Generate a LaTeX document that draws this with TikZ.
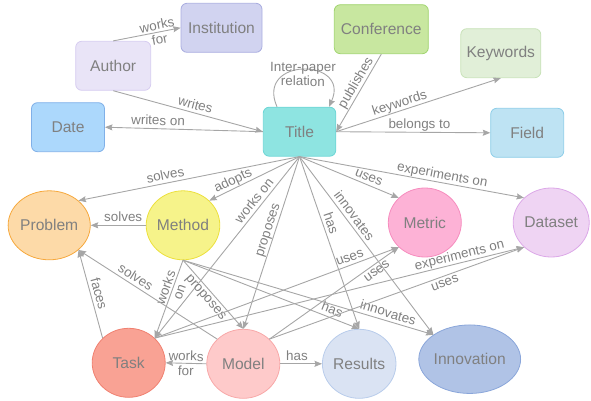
\documentclass[tikz,border=0pt]{standalone}
\usepackage{fontspec}
\setmainfont{Liberation Sans}
\usetikzlibrary{shapes.geometric,arrows.meta}

\definecolor{txt}{RGB}{128,128,128}
\definecolor{edgec}{RGB}{166,166,166}
\definecolor{instf}{RGB}{209,211,240}\definecolor{instd}{RGB}{170,174,224}
\definecolor{authf}{RGB}{233,228,247}\definecolor{authd}{RGB}{214,204,240}
\definecolor{datef}{RGB}{172,216,252}\definecolor{dated}{RGB}{128,176,232}
\definecolor{titlef}{RGB}{142,228,225}\definecolor{titled}{RGB}{110,214,214}
\definecolor{conff}{RGB}{200,231,160}\definecolor{confd}{RGB}{160,212,110}
\definecolor{kwf}{RGB}{225,239,216}\definecolor{kwd}{RGB}{200,226,184}
\definecolor{fieldf}{RGB}{190,227,243}\definecolor{fieldd}{RGB}{140,205,232}
\definecolor{probf}{RGB}{253,218,168}\definecolor{probd}{RGB}{246,168,60}
\definecolor{methf}{RGB}{246,243,138}\definecolor{methd}{RGB}{236,224,60}
\definecolor{metricf}{RGB}{253,178,214}\definecolor{metricd}{RGB}{246,140,190}
\definecolor{dataf}{RGB}{239,212,243}\definecolor{datad}{RGB}{220,168,232}
\definecolor{taskf}{RGB}{249,162,148}\definecolor{taskd}{RGB}{240,128,112}
\definecolor{modelf}{RGB}{254,202,202}\definecolor{modeld}{RGB}{248,168,168}
\definecolor{resf}{RGB}{218,227,243}\definecolor{resd}{RGB}{184,204,235}
\definecolor{innovf}{RGB}{176,195,230}\definecolor{innovd}{RGB}{138,166,218}

\begin{document}
\begin{tikzpicture}[x=1pt,y=-1pt,
  box/.style={draw, rounded corners=6pt, minimum height=49pt, inner sep=0pt,
    font=\fontsize{15.6}{18}\selectfont, text=txt, line width=0.8pt},
  ell/.style={draw, ellipse, minimum width=73pt, minimum height=69pt, inner sep=0pt,
    font=\fontsize{15.6}{18}\selectfont, text=txt, line width=0.8pt},
  rel/.style={draw=edgec, line width=0.9pt, -{Stealth[length=7.5pt,width=6pt,inset=1pt]}},
  lbl/.style={font=\fontsize{13.4}{14.5}\selectfont, text=txt, sloped, inner sep=0.5pt,
    text height=9.5pt, text depth=2.7pt},
  lbltwo/.style={font=\fontsize{13.4}{14.5}\selectfont, text=txt, sloped, inner sep=0pt,
    align=center}
]
\useasboundingbox (0,0) rectangle (591,401);

% rounded boxes
\node[box, fill=instf, draw=instd, minimum width=81pt] (inst) at (221.5,27.8) {Institution};
\node[box, fill=authf, draw=authd, minimum width=75pt] (auth) at (113.2,65.8) {Author};
\node[box, fill=datef, draw=dated, minimum width=73pt] (date) at (68,127.2) {Date};
\node[box, fill=titlef, draw=titled, minimum width=72.5pt] (title) at (299.5,131.7) {Title};
\node[box, fill=conff, draw=confd, minimum width=94pt] (conf) at (381.3,29.2) {Conference};
\node[box, fill=kwf, draw=kwd, minimum width=80pt] (kw) at (500.8,53.2) {Keywords};
\node[box, fill=fieldf, draw=fieldd, minimum width=73pt] (field) at (527.2,132.8) {Field};

% ellipses
\node[ell, fill=probf, draw=probd] (prob) at (49.2,225.3) {Problem};
\node[ell, fill=methf, draw=methd] (meth) at (183,225.3) {Method};
\node[ell, fill=metricf, draw=metricd] (metric) at (424.8,222.5) {Metric};
\node[ell, fill=dataf, draw=datad] (data) at (551.2,222.5) {Dataset};
\node[ell, fill=taskf, draw=taskd] (task) at (128.7,362.8) {Task};
\node[ell, fill=modelf, draw=modeld] (model) at (243.3,363.8) {Model};
\node[ell, fill=resf, draw=resd] (res) at (359.2,363.8) {Results};
\node[ell, fill=innovf, draw=innovd, minimum width=74pt, minimum height=68.5pt] (innov) at (469.7,359.2) {Innovation};

% edges
\draw[rel] (auth.north) -- node[lbltwo, pos=0.67]{works\\for} (inst.west);
\draw[rel] (auth.south) -- node[lbl, above, pos=0.535]{writes} (title.west);
\draw[rel] (title.west) -- node[lbl, above, pos=0.665]{writes on} (date.east);
\draw[rel] ([xshift=-22.5pt]title.north) .. controls +(-22,-50) and +(22,-49) ..
  node[lbltwo, pos=0.5, yshift=-4.5pt]{Inter-paper\\relation} ([xshift=29.5pt]title.north);
\draw[rel] (conf.south) -- node[lbl, above, pos=0.42]{publishes} (title.east);
\draw[rel] (title.east) -- node[lbl, above, pos=0.4]{keywords} (kw.south);
\draw[rel] (title.east) -- node[lbl, above, pos=0.54]{belongs to} (field.west);
\draw[rel] (title.south) -- node[lbl, above, pos=0.6]{solves} (prob.north east);
\draw[rel] (title.south) -- node[lbl, above, pos=0.7]{adopts} (meth.north east);
\draw[rel] (title.south) -- node[lbl, above, pos=0.27]{works on} (task.north east);
\draw[rel] (title.south) -- node[lbl, above, pos=0.44]{proposes} (model.north);
\draw[rel] (title.south) -- node[lbl, above, pos=0.4]{has} (res.north);
\draw[rel] (title.south) -- node[lbl, above, pos=0.36]{innovates} (innov.north west);
\draw[rel] (title.south) -- node[lbl, above, pos=0.67]{uses} (metric.north west);
\draw[rel] (title.south) -- node[lbl, above, pos=0.63]{experiments on} (data.north west);
\draw[rel] (meth.west) -- node[lbl, above, pos=0.41]{solves} (prob.east);
\draw[rel] (meth.south) -- node[lbltwo, pos=0.38]{works\\on} (task.north east);
\draw[rel] (meth.south) -- node[lbl, below, pos=0.47]{proposes} (model.north);
\draw[rel] (meth.south) -- node[lbl, above, pos=0.83]{has} (res.north);
\draw[rel] (meth.south) -- node[lbl, above, pos=0.81]{innovates} (innov.north west);
\draw[rel] (task.north east) -- node[lbl, above, pos=0.81]{uses} (metric.south west);
\draw[rel] (task.north east) -- node[lbl, above, pos=0.83]{experiments on} (data.south west);
\draw[rel] (model.north east) -- node[lbl, below, pos=0.8]{uses} (metric.south west);
\draw[rel] (model.north east) -- node[lbl, below, pos=0.68]{uses} (data.south west);
\draw[rel] (model.north west) -- node[lbl, above, pos=0.62]{solves} (prob.south east);
\draw[rel] (task.north west) -- node[lbl, above, pos=0.48]{faces} (prob.south east);
\draw[rel] (model.west) -- node[lbltwo, pos=0.5]{works\\for} (task.east);
\draw[rel] (model.east) -- node[lbl, above, pos=0.4]{has} (res.west);
\end{tikzpicture}
\end{document}
